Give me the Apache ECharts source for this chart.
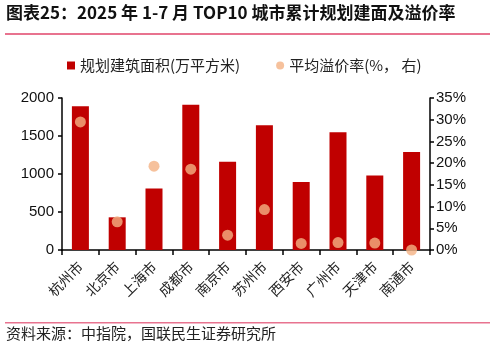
<!DOCTYPE html>
<html><head><meta charset="utf-8">
<script src="https://cdn.jsdelivr.net/npm/echarts@6/dist/echarts.min.js"></script>
<style>html,body{margin:0;padding:0;background:#fff}#c{width:496px;height:348px}</style>
</head><body><div id="c"></div>
<script>
const categories = ['杭州市','北京市','上海市','成都市','南京市','苏州市','西安市','广州市','天津市','南通市'];
const areaValues = [1890, 430, 810, 1910, 1160, 1640, 895, 1550, 980, 1290];
const premiumValues = [29.5, 6.5, 19.3, 18.6, 3.4, 9.3, 1.5, 1.7, 1.6, 0.0];
const leftTicks = [0, 500, 1000, 1500, 2000];
const rightTicks = [0, 5, 10, 15, 20, 25, 30, 35];

const chart = echarts.init(document.getElementById('c'), null, {renderer:'canvas'});
const cjk = '"Noto Sans CJK SC", sans-serif';
chart.setOption({
  animation:false,
  grid:{left:62,right:66,top:98,bottom:98},
  legend:{
    top:53, left:62,
    itemGap:36, itemWidth:8, itemHeight:8,
    textStyle:{fontFamily:cjk, fontSize:15, color:'#222'},
    data:[{name:'规划建筑面积(万平方米)', icon:'rect'},{name:'平均溢价率(%， 右)', icon:'circle'}]
  },
  xAxis:{
    type:'category', data:categories,
    axisLine:{lineStyle:{color:'#000', width:1.5}},
    axisTick:{show:true, length:5, lineStyle:{color:'#000', width:1.5}},
    axisLabel:{rotate:45, fontFamily:cjk, fontSize:14, color:'#222', margin:14, interval:0}
  },
  yAxis:[{
    type:'value', min:leftTicks[0], max:leftTicks[leftTicks.length-1], interval:500,
    axisLine:{show:true, lineStyle:{color:'#000', width:1.5}},
    axisTick:{show:true, length:4, lineStyle:{color:'#000', width:1.5}},
    splitLine:{show:false},
    axisLabel:{formatter:function(v){return String(v);}, fontFamily:'"Liberation Sans", Arial, sans-serif', fontSize:15, color:'#111', margin:8}
  },{
    type:'value', min:rightTicks[0], max:rightTicks[rightTicks.length-1], interval:5,
    axisLine:{show:true, lineStyle:{color:'#000', width:1.5}},
    axisTick:{show:true, length:4, lineStyle:{color:'#000', width:1.5}},
    splitLine:{show:false},
    axisLabel:{formatter:'{value}%', fontFamily:'"Liberation Sans", Arial, sans-serif', fontSize:15, color:'#111', margin:6}
  }],
  series:[{
    name:'规划建筑面积(万平方米)', type:'bar', data:areaValues, barWidth:17,
    itemStyle:{color:'#C00000'}
  },{
    name:'平均溢价率(%， 右)', type:'scatter', yAxisIndex:1, data:premiumValues,
    symbolSize:11, itemStyle:{color:'#F4B183'}, z:5
  }],
  graphic:[
    {type:'text', left:6, top:4, style:{text:'图表25：2025 年 1-7 月 TOP10 城市累计规划建面及溢价率', font:'bold 17px "Noto Sans CJK SC", sans-serif', fill:'#111'}},
    {type:'rect', left:5, top:33, shape:{width:485, height:2}, style:{fill:'#E8738F'}},
    {type:'rect', left:5, top:322, shape:{width:485, height:1.5}, style:{fill:'#E8738F'}},
    {type:'text', left:6, top:326, style:{text:'资料来源：中指院，国联民生证券研究所', font:'15px "Noto Sans CJK SC", sans-serif', fill:'#222'}}
  ]
});
</script></body></html>
